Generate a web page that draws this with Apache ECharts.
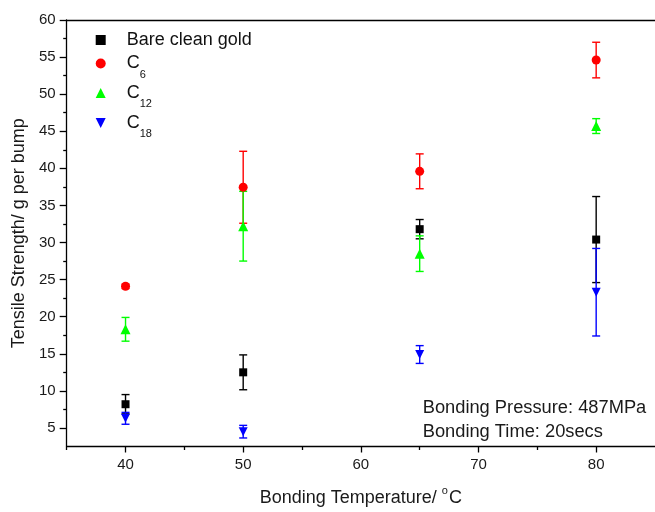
<!DOCTYPE html>
<html lang="en">
<head>
<meta charset="UTF-8">
<title>Tensile Strength</title>
<style>
  html, body { margin: 0; padding: 0; background: #fff; }
  #main { width: 655px; height: 512px; }
</style>
</head>
<body>
<div id="main"></div>
<script src="https://cdn.jsdelivr.net/npm/echarts@6/dist/echarts.min.js"></script>
<script>
// bonding temperature (°C)
var temps = [40, 50, 65, 80];

// mean tensile strength and error (g per bump)
var goldMean = [8.2, 12.5, 31.8, 30.4];
var goldErr  = [1.3, 2.35, 1.3, 5.8];
var c6Mean   = [24.1, 37.45, 39.6, 54.6];
var c6Err    = [0.3, 4.85, 2.35, 2.4];
var c12Mean  = [18.3, 32.2, 28.5, 45.7];
var c12Err   = [1.6, 4.7, 2.4, 1.0];
var c18Mean  = [6.3, 4.5, 14.9, 23.3];
var c18Err   = [0.8, 0.85, 1.2, 5.9];

var xMajor = [40, 50, 60, 70, 80];
var xMinor = [35, 45, 55, 65, 75];
var yMajor = [5, 10, 15, 20, 25, 30, 35, 40, 45, 50, 55, 60];
var yMinor = [7.5, 12.5, 17.5, 22.5, 27.5, 32.5, 37.5, 42.5, 47.5, 52.5, 57.5];

var FONT = '"Liberation Sans", Arial, sans-serif';

function points(mean) {
  return temps.map(function (t, i) { return [t, mean[i]]; });
}
function bars(mean, err) {
  return temps.map(function (t, i) { return [t, mean[i] - err[i], mean[i] + err[i]]; });
}

function errorBars(color) {
  return function (params, api) {
    var x = api.value(0);
    var top = api.coord([x, api.value(2)]);
    var bot = api.coord([x, api.value(1)]);
    var w = 4;
    var st = { stroke: color, lineWidth: 1.4 };
    return {
      type: 'group',
      children: [
        { type: 'line', shape: { x1: top[0], y1: top[1], x2: bot[0], y2: bot[1] }, style: st },
        { type: 'line', shape: { x1: top[0] - w, y1: top[1], x2: top[0] + w, y2: top[1] }, style: st },
        { type: 'line', shape: { x1: bot[0] - w, y1: bot[1], x2: bot[0] + w, y2: bot[1] }, style: st }
      ]
    };
  };
}

var legendRich = {
  b: { fontSize: 18, fontFamily: FONT, color: '#111', lineHeight: 32, padding: [0, 0, 0, 16] },
  s: { fontSize: 11, fontFamily: FONT, color: '#111', padding: [22, 0, 0, 0] }
};
function legendFmt(name) {
  if (name === 'C6') return '{b|C}{s|6}';
  if (name === 'C12') return '{b|C}{s|12}';
  if (name === 'C18') return '{b|C}{s|18}';
  return '{b|' + name + '}';
}
function oneLegend(name, top) {
  return {
    data: [name], left: 95.7, top: top, padding: 0,
    itemWidth: 10, itemHeight: 10,
    formatter: legendFmt,
    textStyle: { rich: legendRich },
    selectedMode: false
  };
}

var downTri = 'path://M0,0 L10,0 L5,10 Z';

var chart = echarts.init(document.getElementById('main'));
chart.setOption({
  animation: false,
  backgroundColor: '#fff',
  grid: { left: 66.7, right: -3, top: 20, bottom: 60.3 },
  legend: [
    oneLegend('Bare clean gold', 31),
    oneLegend('C6', 54.5),
    oneLegend('C12', 84),
    oneLegend('C18', 114)
  ],
  xAxis: [
    {
      type: 'value', min: 35, max: 85, position: 'bottom',
      axisLine: { show: true, lineStyle: { color: '#000', width: 1.3 } },
      axisTick: { show: true, length: 6, customValues: xMajor, lineStyle: { color: '#000', width: 1.3 } },
      axisLabel: { customValues: xMajor, color: '#1a1a1a', fontSize: 15, fontFamily: FONT, margin: 11 },
      splitLine: { show: false },
      name: '{t|Bonding Temperature/ }{o|o}{t|C}',
      nameLocation: 'middle', nameGap: 38.5,
      nameTextStyle: {
        rich: {
          t: { fontSize: 18, fontFamily: FONT, color: '#1a1a1a' },
          o: { fontSize: 11, fontFamily: FONT, color: '#1a1a1a', padding: [0, 1, 15, 0] }
        }
      }
    },
    {
      type: 'value', min: 35, max: 85, position: 'bottom',
      axisLine: { show: false },
      axisTick: { show: true, length: 3.5, customValues: xMinor, lineStyle: { color: '#000', width: 1.3 } },
      axisLabel: { show: false },
      splitLine: { show: false }
    },
    {
      type: 'value', min: 35, max: 85, position: 'top',
      axisLine: { show: true, lineStyle: { color: '#000', width: 1.3 } },
      axisTick: { show: false },
      axisLabel: { show: false },
      splitLine: { show: false }
    }
  ],
  yAxis: [
    {
      type: 'value', min: 2.5, max: 60, position: 'left',
      axisLine: { show: true, lineStyle: { color: '#000', width: 1.3 } },
      axisTick: { show: true, length: 7, customValues: yMajor, lineStyle: { color: '#000', width: 1.3 } },
      axisLabel: { customValues: yMajor, color: '#1a1a1a', fontSize: 15, fontFamily: FONT, margin: 11 },
      splitLine: { show: false },
      name: 'Tensile Strength/ g per bump',
      nameLocation: 'middle', nameGap: 36, nameRotate: 90,
      nameTextStyle: { fontSize: 18, fontFamily: FONT, color: '#1a1a1a' }
    },
    {
      type: 'value', min: 2.5, max: 60, position: 'left',
      axisLine: { show: false },
      axisTick: { show: true, length: 3.5, customValues: yMinor, lineStyle: { color: '#000', width: 1.3 } },
      axisLabel: { show: false },
      splitLine: { show: false }
    }
  ],
  graphic: [
    { type: 'text', left: 422.7, top: 399, style: { text: 'Bonding Pressure: 487MPa', fontSize: 18.3, fontFamily: FONT, fill: '#1a1a1a' } },
    { type: 'text', left: 422.7, top: 422.5, style: { text: 'Bonding Time: 20secs', fontSize: 18.3, fontFamily: FONT, fill: '#1a1a1a' } }
  ],
  series: [
    { name: 'gold err', type: 'custom', renderItem: errorBars('#000'), data: bars(goldMean, goldErr), z: 2 },
    { name: 'Bare clean gold', type: 'scatter', symbol: 'rect', symbolSize: 8, itemStyle: { color: '#000', opacity: 1 }, data: points(goldMean), z: 3 },
    { name: 'c6 err', type: 'custom', renderItem: errorBars('#ff0000'), data: bars(c6Mean, c6Err), z: 2 },
    { name: 'C6', type: 'scatter', symbol: 'circle', symbolSize: 9, itemStyle: { color: '#ff0000', opacity: 1 }, data: points(c6Mean), z: 3 },
    { name: 'c12 err', type: 'custom', renderItem: errorBars('#00ff00'), data: bars(c12Mean, c12Err), z: 2 },
    { name: 'C12', type: 'scatter', symbol: 'triangle', symbolSize: 10, itemStyle: { color: '#00ff00', opacity: 1 }, data: points(c12Mean), z: 3 },
    { name: 'c18 err', type: 'custom', renderItem: errorBars('#0000ff'), data: bars(c18Mean, c18Err), z: 2 },
    { name: 'C18', type: 'scatter', symbol: downTri, symbolSize: 9, itemStyle: { color: '#0000ff', opacity: 1 }, data: points(c18Mean), z: 3 }
  ]
});
</script>
</body>
</html>
